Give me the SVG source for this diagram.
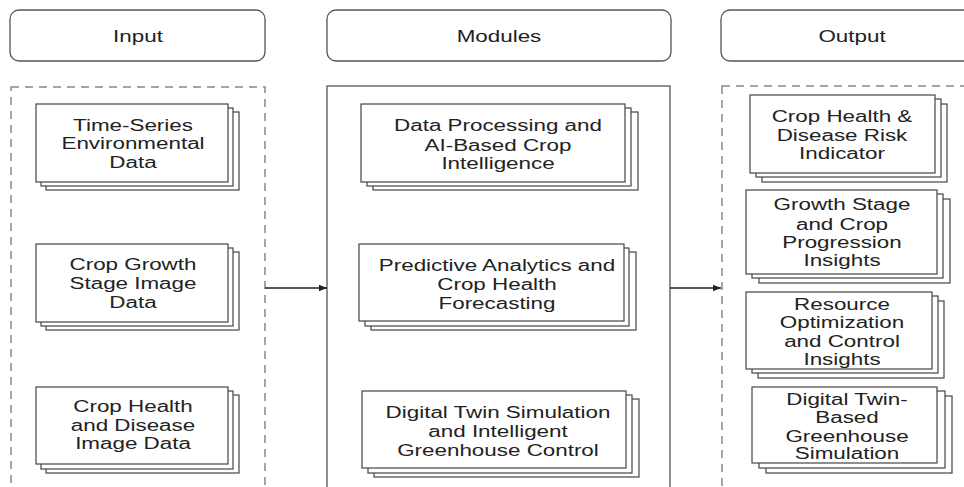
<svg xmlns="http://www.w3.org/2000/svg" width="964" height="487" viewBox="0 0 964 487">
<defs>
<style>
.hdr{fill:#fff;stroke:#555;stroke-width:1.3}
.dash{fill:none;stroke:#888;stroke-width:1.5;stroke-dasharray:8 6}
.solid{fill:none;stroke:#555;stroke-width:1.3}
.doc{fill:#fff;stroke:#444;stroke-width:1.2}
.t{font-family:"Liberation Sans",Arial,sans-serif;font-size:16px;fill:#222;text-anchor:middle}
.conn{stroke:#222;stroke-width:1.3;fill:none}
</style>
<marker id="ah" viewBox="0 0 10 10" refX="10" refY="5" markerWidth="8" markerHeight="8" markerUnits="userSpaceOnUse" orient="auto">
<path d="M0,1 L10,5 L0,9 z" fill="#222"/>
</marker>
</defs>
<rect width="964" height="487" fill="#fff"/>

<g id="input-header">
<rect class="hdr" x="10" y="10" width="255" height="51" rx="9"/>
<text class="t" transform="translate(138 0) scale(1.4 1)" x="0" y="42">Input</text>
</g>
<g id="modules-header">
<rect class="hdr" x="327" y="10" width="344" height="51" rx="9"/>
<text class="t" transform="translate(499 0) scale(1.4 1)" x="0" y="42">Modules</text>
</g>
<g id="output-header">
<rect class="hdr" x="721" y="10" width="270" height="51" rx="9"/>
<text class="t" transform="translate(852 0) scale(1.4 1)" x="0" y="42">Output</text>
</g>

<g id="input-container"><rect class="dash" x="11" y="87" width="254" height="420"/></g>
<g id="modules-container"><rect class="solid" x="327" y="86" width="343" height="420"/></g>
<g id="output-container"><rect class="dash" x="722" y="86" width="270" height="420"/></g>

<g id="in1">
<rect class="doc" x="46" y="112" width="193" height="78"/>
<rect class="doc" x="41" y="108" width="192" height="78"/>
<rect class="doc" x="36" y="104" width="192" height="78"/>
<text class="t" transform="translate(133 0) scale(1.4 1)"><tspan x="0" y="131">Time-Series</tspan><tspan x="0" y="149">Environmental</tspan><tspan x="0" y="168">Data</tspan></text>
</g>
<g id="in2">
<rect class="doc" x="46" y="252" width="193" height="78"/>
<rect class="doc" x="41" y="248" width="192" height="78"/>
<rect class="doc" x="36" y="244" width="192" height="78"/>
<text class="t" transform="translate(133 0) scale(1.4 1)"><tspan x="0" y="270">Crop Growth</tspan><tspan x="0" y="289">Stage Image</tspan><tspan x="0" y="308">Data</tspan></text>
</g>
<g id="in3">
<rect class="doc" x="46" y="395" width="193" height="78"/>
<rect class="doc" x="41" y="391" width="192" height="78"/>
<rect class="doc" x="36" y="387" width="192" height="77"/>
<text class="t" transform="translate(133 0) scale(1.4 1)"><tspan x="0" y="412">Crop Health</tspan><tspan x="0" y="431">and Disease</tspan><tspan x="0" y="449">Image Data</tspan></text>
</g>

<g id="mod1">
<rect class="doc" x="373" y="112" width="265" height="78"/>
<rect class="doc" x="367" y="108" width="264" height="78"/>
<rect class="doc" x="361" y="104" width="264" height="78"/>
<text class="t" transform="translate(498 0) scale(1.4 1)"><tspan x="0" y="131">Data Processing and</tspan><tspan x="0" y="151">AI-Based Crop</tspan><tspan x="0" y="169">Intelligence</tspan></text>
</g>
<g id="mod2">
<rect class="doc" x="371" y="252" width="265" height="78"/>
<rect class="doc" x="365" y="248" width="264" height="78"/>
<rect class="doc" x="359" y="244" width="265" height="77"/>
<text class="t" transform="translate(497 0) scale(1.4 1)"><tspan x="0" y="271">Predictive Analytics and</tspan><tspan x="0" y="290">Crop Health</tspan><tspan x="0" y="309">Forecasting</tspan></text>
</g>
<g id="mod3">
<rect class="doc" x="374" y="399" width="265" height="78"/>
<rect class="doc" x="368" y="395" width="264" height="78"/>
<rect class="doc" x="362" y="391" width="264" height="77"/>
<text class="t" transform="translate(498 0) scale(1.4 1)"><tspan x="0" y="418">Digital Twin Simulation</tspan><tspan x="0" y="437">and Intelligent</tspan><tspan x="0" y="456">Greenhouse Control</tspan></text>
</g>

<g id="out1">
<rect class="doc" x="762" y="104" width="185" height="78"/>
<rect class="doc" x="756" y="99" width="185" height="78"/>
<rect class="doc" x="750" y="95" width="185" height="78"/>
<text class="t" transform="translate(842 0) scale(1.4 1)"><tspan x="0" y="122">Crop Health &amp;</tspan><tspan x="0" y="141">Disease Risk</tspan><tspan x="0" y="159">Indicator</tspan></text>
</g>
<g id="out2">
<rect class="doc" x="759" y="199" width="191" height="84"/>
<rect class="doc" x="752" y="194" width="191" height="84"/>
<rect class="doc" x="746" y="190" width="191" height="84"/>
<text class="t" transform="translate(842 0) scale(1.4 1)"><tspan x="0" y="210">Growth Stage</tspan><tspan x="0" y="230">and Crop</tspan><tspan x="0" y="248">Progression</tspan><tspan x="0" y="266">Insights</tspan></text>
</g>
<g id="out3">
<rect class="doc" x="758" y="301" width="186" height="77"/>
<rect class="doc" x="752" y="296" width="186" height="77"/>
<rect class="doc" x="746" y="292" width="186" height="77"/>
<text class="t" transform="translate(842 0) scale(1.4 1)"><tspan x="0" y="310">Resource</tspan><tspan x="0" y="328">Optimization</tspan><tspan x="0" y="347">and Control</tspan><tspan x="0" y="365">Insights</tspan></text>
</g>
<g id="out4">
<rect class="doc" x="766" y="396" width="186" height="77"/>
<rect class="doc" x="759" y="391" width="186" height="77"/>
<rect class="doc" x="752" y="387" width="185" height="76"/>
<text class="t" transform="translate(847 0) scale(1.4 1)"><tspan x="0" y="405">Digital Twin-</tspan><tspan x="0" y="423">Based</tspan><tspan x="0" y="442">Greenhouse</tspan><tspan x="0" y="459">Simulation</tspan></text>
</g>

<g id="connectors">
<line class="conn" x1="265" y1="288" x2="327" y2="288" marker-end="url(#ah)"/>
<line class="conn" x1="670" y1="288" x2="721" y2="288" marker-end="url(#ah)"/>
</g>
</svg>
